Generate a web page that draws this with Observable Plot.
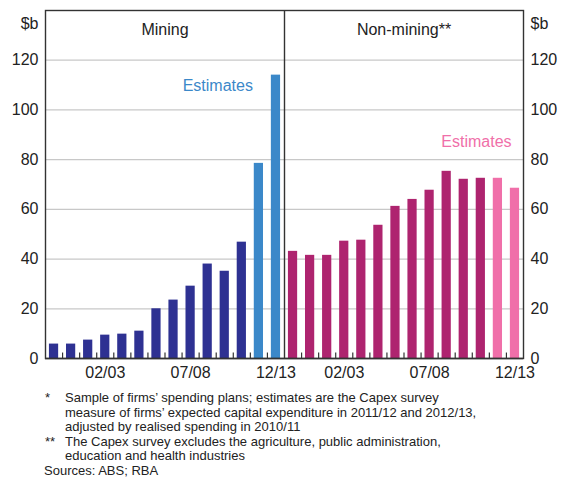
<!DOCTYPE html>
<html><head><meta charset="utf-8">
<script src="https://cdn.jsdelivr.net/npm/d3@7"></script>
<script src="https://cdn.jsdelivr.net/npm/@observablehq/plot@0.6"></script>
<style>
body{margin:0;background:#fff;font-family:"Liberation Sans",Arial,sans-serif;color:#222}
#chart{position:absolute;left:0;top:0}
#notes{position:absolute;left:0;top:391px;width:566px;font-size:13px;line-height:14.5px;color:#222}
.note{position:relative;padding-left:65px}
.note .mk{position:absolute;left:45px;top:0}
.src{padding-left:44px}
</style></head><body>
<div id="chart"></div>
<div id="notes">
<div class="note"><span class="mk">*</span>Sample of firms’ spending plans; estimates are the Capex survey<br>measure of firms’ expected capital expenditure in 2011/12 and 2012/13,<br>adjusted by realised spending in 2010/11</div>
<div class="note"><span class="mk">**</span>The Capex survey excludes the agriculture, public administration,<br>education and health industries</div>
<div class="src">Sources: ABS; RBA</div>
</div>
<script>
const years = ["99/00","00/01","01/02","02/03","03/04","04/05","05/06","06/07","07/08","08/09","09/10","10/11","11/12","12/13"];
const mining = [5.8, 5.8, 7.4, 9.4, 9.8, 11.0, 20.0, 23.5, 29.1, 38.0, 35.1, 46.8, 78.5, 114.0];
const nonMining = [43.1, 41.5, 41.5, 47.2, 47.6, 53.6, 61.2, 64.0, 67.7, 75.3, 72.1, 72.5, 72.5, 68.5];
const estimateYears = ["11/12","12/13"];
const panels = ["Mining","Non-mining**"];
const yTicks = [0, 20, 40, 60, 80, 100, 120];
const xTickLabels = ["02/03","07/08","12/13"];

const n = years.length;
const rows = [];
[mining, nonMining].forEach((vals, p) => {
  vals.forEach((v, i) => {
    const est = estimateYears.includes(years[i]);
    rows.push({panel: panels[p], year: years[i], value: v, slot: p * n + i,
      key: (p === 0 ? "m" : "n") + (est ? "e" : "a")});
  });
});
const labelRows = rows.filter(d => xTickLabels.includes(d.year));
const boundaries = d3.range(1, 2 * n).filter(b => b !== n);

const plot = Plot.plot({
  width: 566, height: 388,
  marginLeft: 45, marginRight: 43, marginTop: 10, marginBottom: 30,
  style: {fontFamily: '"Liberation Sans", Arial, sans-serif', fontSize: "16px", color: "#222", background: "#fff"},
  x: {domain: [0, 2 * n], axis: null},
  y: {domain: [0, 140], axis: null},
  color: {domain: ["ma","me","na","ne"], range: ["#2e3192","#3b88c9","#ae246f","#f06fa9"]},
  marks: [
    Plot.ruleY(yTicks.filter(t => t > 0), {stroke: "#c8c8c8", strokeWidth: 1.2}),
    Plot.rectY(rows, {x1: d => d.slot + 0.23, x2: d => d.slot + 0.77, y: "value", fill: "key"}),
    Plot.ruleX(boundaries, {x: d => d, y1: 0, y2: 2.2, stroke: "#333", strokeWidth: 1.2}),
    Plot.ruleY([0], {stroke: "#333", strokeWidth: 1.6}),
    Plot.ruleX([n], {stroke: "#333", strokeWidth: 1.4}),
    Plot.frame({stroke: "#333", strokeWidth: 1.4}),
    Plot.axisY({anchor: "left", ticks: yTicks, tickSize: 0, tickPadding: 7, label: null, fontSize: 16}),
    Plot.axisY({anchor: "right", ticks: yTicks, tickSize: 0, tickPadding: 7, label: null, fontSize: 16}),
    Plot.text(["$b"], {frameAnchor: "top-left", dx: -7, dy: 7, textAnchor: "end", fontSize: 16}),
    Plot.text(["$b"], {frameAnchor: "top-right", dx: 7, dy: 7, textAnchor: "start", fontSize: 16}),
    Plot.text(panels, {x: (d, i) => i * n + n / 2, frameAnchor: "top", dy: 13, fontSize: 16}),
    Plot.text(labelRows, {x: d => d.slot + 0.5, text: "year", frameAnchor: "bottom", dy: 19, fontSize: 16}),
    Plot.text(["Estimates"], {x: n - 2 + 0.15, y: 109.5, textAnchor: "end", fill: "#3b88c9", fontSize: 16}),
    Plot.text(["Estimates"], {x: 2 * n - 0.7, y: 87, textAnchor: "end", fill: "#f06fa9", fontSize: 16})
  ]
});
document.getElementById("chart").appendChild(plot);
</script>
</body></html>
